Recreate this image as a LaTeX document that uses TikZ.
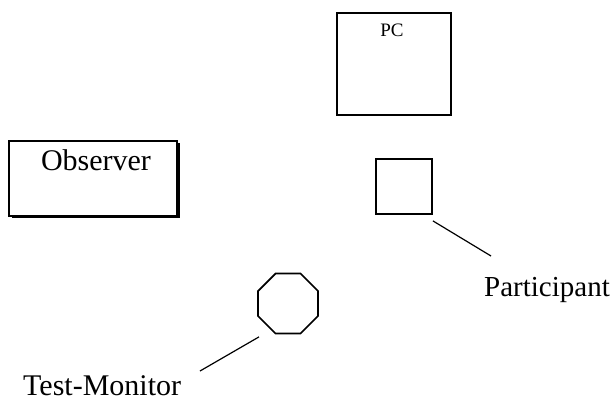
\documentclass[tikz,border=0pt]{standalone}
\usepackage{fontspec}
\setmainfont{Liberation Serif}
\usetikzlibrary{shapes}
\usetikzlibrary{shadows}
\tikzset{
  big_text/.style = {font=\fontsize{29}{29}\selectfont, inner sep=0pt},
  small_text/.style = {font=\fontsize{19}{19}\selectfont, inner sep=0pt},
  box_node/.style = {rectangle, draw=black, fill=white, line width=1.7pt,
    inner sep=0pt},% boite simple
  seat_node/.style = {box_node, minimum width=56pt, minimum height=55pt},% place du participant
  monitor_node/.style = {regular polygon, regular polygon sides=8, draw=black,
    line width=1.7pt, inner sep=0pt, minimum size=65pt},% octogone
  pointer/.style = {line width=1.2pt}
}
\begin{document}
\begin{tikzpicture}[x=1pt, y=-1pt]
  \useasboundingbox (0,0) rectangle (612,400);
  % les pieces
  \node [box_node, minimum width=114pt, minimum height=102pt,
    label={[small_text, anchor=base, xshift=-2pt, yshift=-24pt]north:PC}] (pc) at (394,64) {};
  \node [box_node, minimum width=168pt, minimum height=75pt,
    drop shadow={shadow xshift=2.5pt, shadow yshift=-2pt, fill=black, opacity=1},
    label={[big_text, font=\fontsize{30}{30}\selectfont, anchor=base, xshift=3pt, yshift=-30pt]north:Observer}] (observer) at (93,178.5) {};
  \node [seat_node] (seat) at (404,186.5) {};
  \node [monitor_node] (monitor) at (288,303.5) {};
  % les noms
  \node [big_text, anchor=base west] (participant) at (484,296) {Participant};
  \node [big_text, font=\fontsize{30}{30}\selectfont, anchor=base west] (testmonitor) at (23,395.5) {Test-Monitor};
  \coordinate (seat_end) at (491,256);
  \coordinate (monitor_end) at (200,371);
  \draw [pointer] ([yshift=-6pt]seat.south east) -- (seat_end);
  \draw [pointer] ([xshift=-29pt, yshift=-2.5pt]monitor.south) -- (monitor_end);
\end{tikzpicture}
\end{document}
